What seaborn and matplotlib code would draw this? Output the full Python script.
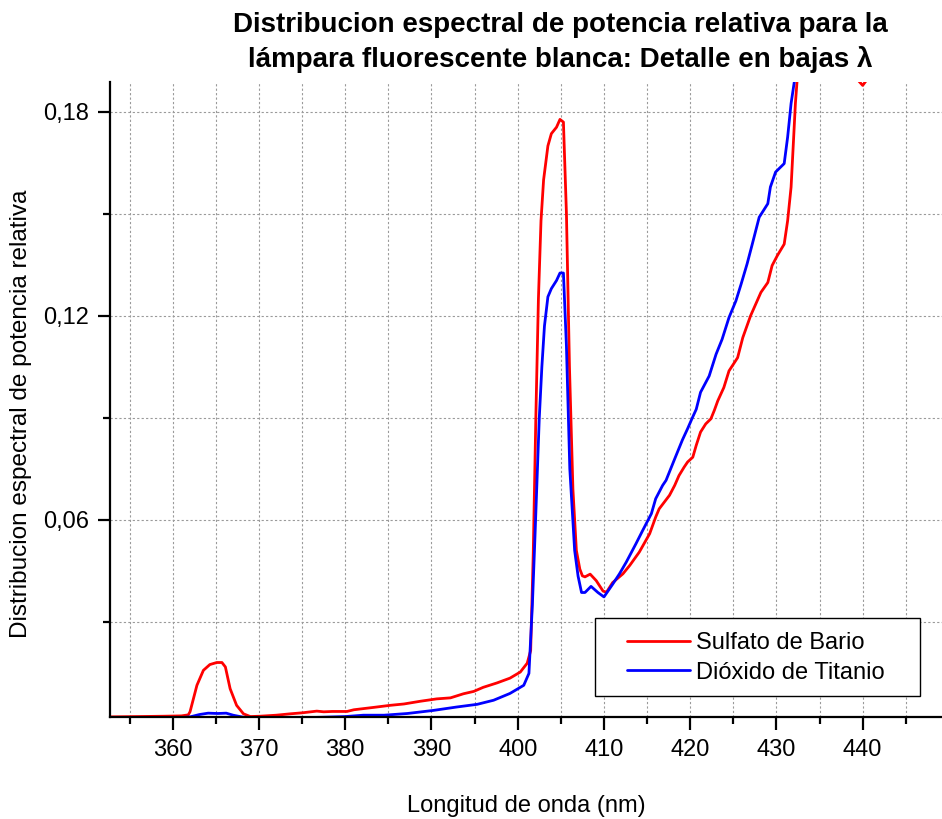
import numpy as np
import pandas as pd
import matplotlib
matplotlib.use("Agg")
import matplotlib.pyplot as plt
from matplotlib.ticker import MultipleLocator, FuncFormatter
from matplotlib.patches import Rectangle
import seaborn as sns

# Relative spectral power, white fluorescent lamp, low-wavelength detail
bario_nm = [352.5, 356.0, 359.0, 361.0, 361.8, 362.0, 362.8, 363.55, 364.3, 365.1,
            365.7, 366.1, 366.65, 367.4, 368.2, 369.0, 370.1, 372.0, 373.6, 375.0,
            376.7, 377.5, 378.5, 380.2, 381.0, 383.3, 385.2, 386.8, 388.7, 390.6,
            392.2, 393.7, 394.9, 396.0, 397.6, 399.1, 400.3, 401.1, 401.5, 401.8,
            402.1, 402.4, 402.7, 403.0, 403.5, 403.9, 404.5, 404.9, 405.3, 405.65,
            406.0, 406.4, 406.8, 407.2, 407.5, 407.8, 408.4, 409.1, 409.9, 410.3,
            411.0, 412.2, 413.0, 414.1, 415.3, 416.0, 416.4, 417.6, 418.2, 418.7,
            419.3, 419.7, 420.3, 420.7, 421.2, 421.8, 422.4, 422.8, 423.2, 423.9,
            424.5, 425.5, 426.1, 427.0, 428.2, 429.0, 429.5, 430.1, 430.9, 431.3,
            431.7, 432.0, 432.2, 432.4, 433.0, 435.0, 437.0, 439.0, 439.4, 440.0,
            440.5, 441.0, 444.0, 449.5]
bario_val = [0.0020, 0.0021, 0.0022, 0.0023, 0.0026, 0.0035, 0.0113, 0.0157, 0.0174, 0.0180,
             0.0180, 0.0167, 0.0103, 0.0054, 0.0029, 0.0021, 0.0022, 0.0025, 0.0029, 0.0032,
             0.0037, 0.0035, 0.0036, 0.0036, 0.0041, 0.0048, 0.0054, 0.0058, 0.0066, 0.0073,
             0.0076, 0.0088, 0.0095, 0.0107, 0.0120, 0.0134, 0.0152, 0.0178, 0.0215, 0.0500,
             0.0900, 0.1250, 0.1480, 0.1600, 0.1700, 0.1736, 0.1755, 0.1778, 0.1770, 0.1500,
             0.1050, 0.0690, 0.0510, 0.0455, 0.0435, 0.0432, 0.0440, 0.0421, 0.0390, 0.0387,
             0.0415, 0.0441, 0.0466, 0.0505, 0.0559, 0.0608, 0.0632, 0.0672, 0.0701, 0.0730,
             0.0755, 0.0770, 0.0784, 0.0819, 0.0858, 0.0882, 0.0897, 0.0922, 0.0950, 0.0989,
             0.1038, 0.1077, 0.1136, 0.1200, 0.1269, 0.1298, 0.1348, 0.1377, 0.1411, 0.1480,
             0.1579, 0.1726, 0.1825, 0.1893, 0.2150, 0.2500, 0.2350, 0.2050, 0.1895, 0.1878,
             0.1895, 0.2000, 0.2600, 0.3000]

titanio_nm = [352.5, 356.0, 359.0, 361.0, 362.0, 363.1, 364.1, 365.2, 366.2, 367.0,
              368.2, 370.0, 373.0, 375.5, 377.4, 380.0, 382.1, 384.5, 387.2, 390.2,
              392.9, 395.3, 397.2, 399.1, 400.7, 401.3, 401.7, 402.0, 402.2, 402.5,
              402.8, 403.1, 403.5, 403.9, 404.5, 404.9, 405.3, 405.65, 406.04, 406.6,
              407.0, 407.4, 407.8, 408.5, 409.3, 410.0, 411.0, 411.8, 412.6, 413.7,
              414.5, 415.5, 416.0, 416.8, 417.2, 418.2, 419.1, 419.7, 420.25, 420.7,
              421.2, 422.2, 423.0, 423.7, 424.5, 425.3, 425.9, 426.6, 427.2, 428.0,
              429.0, 429.3, 429.9, 430.9, 431.3, 431.7, 432.1, 433.0, 436.0, 440.0,
              445.0, 449.5]
titanio_val = [0.0017, 0.0017, 0.0017, 0.0018, 0.0020, 0.0027, 0.0031, 0.0030, 0.0031, 0.0025,
               0.0019, 0.0017, 0.0017, 0.0018, 0.0019, 0.0021, 0.0025, 0.0025, 0.0030, 0.0039,
               0.0049, 0.0057, 0.0069, 0.0089, 0.0113, 0.0148, 0.0350, 0.0550, 0.0690, 0.0900,
               0.1050, 0.1170, 0.1256, 0.1280, 0.1304, 0.1326, 0.1326, 0.1110, 0.0750, 0.0510,
               0.0434, 0.0386, 0.0386, 0.0404, 0.0386, 0.0373, 0.0410, 0.0441, 0.0476, 0.0529,
               0.0569, 0.0618, 0.0662, 0.0701, 0.0716, 0.0779, 0.0835, 0.0868, 0.0900, 0.0925,
               0.0975, 0.1023, 0.1087, 0.1131, 0.1195, 0.1244, 0.1293, 0.1353, 0.1411, 0.1490,
               0.1530, 0.1579, 0.1623, 0.1648, 0.1726, 0.1825, 0.1893, 0.2150, 0.2600, 0.2900,
               0.3200, 0.3400]

series_names = ["Sulfato de Bario", "Dióxido de Titanio"]
series_colors = ["#ff0000", "#0000ff"]

title_lines = ["Distribucion espectral de potencia relativa para la",
               "lámpara fluorescente blanca: Detalle en bajas λ"]
x_label = "Longitud de onda (nm)"
y_label = "Distribucion espectral de potencia relativa"

df = pd.concat([
    pd.DataFrame({"nm": bario_nm, "pot": bario_val, "muestra": series_names[0]}),
    pd.DataFrame({"nm": titanio_nm, "pot": titanio_val, "muestra": series_names[1]}),
], ignore_index=True)

sns.set_style("ticks")
plt.rcParams["font.family"] = ["Liberation Sans", "DejaVu Sans"]
plt.rcParams.update({
    "text.color": "black",
    "axes.labelcolor": "black",
    "xtick.color": "black",
    "ytick.color": "black",
})

fig = plt.figure(figsize=(9.42, 8.19), dpi=100)
ax = fig.add_axes([110 / 942, 1 - 717 / 819, (942 - 110) / 942, (717 - 82) / 819])

sns.lineplot(data=df, x="nm", y="pot", hue="muestra", estimator=None, sort=False,
             palette=dict(zip(series_names, series_colors)), linewidth=2.0,
             ax=ax, legend=True)

ax.set_xlim(352.72, 449.2)
ax.set_ylim(0.00197, 0.1888)

ax.xaxis.set_major_locator(MultipleLocator(10))
ax.xaxis.set_minor_locator(MultipleLocator(5))
ax.yaxis.set_major_locator(MultipleLocator(0.06))
ax.yaxis.set_minor_locator(MultipleLocator(0.03))
ax.yaxis.set_major_formatter(FuncFormatter(lambda v, p: f"{v:.2f}".replace(".", ",")))
ax.xaxis.set_major_formatter(FuncFormatter(lambda v, p: f"{v:.0f}"))

ax.set_axisbelow(True)
ax.grid(which="both", color="#9a9a9a", linestyle=(0, (2, 2)), linewidth=0.8)

for side in ("top", "right"):
    ax.spines[side].set_visible(False)
for side in ("left", "bottom"):
    ax.spines[side].set_linewidth(1.6)
    ax.spines[side].set_color("black")

ax.tick_params(axis="both", which="both", direction="out", width=1.6, color="black",
               labelsize=17, labelcolor="black")
ax.tick_params(axis="both", which="major", length=9)
ax.tick_params(axis="both", which="minor", length=5)
ax.tick_params(axis="x", which="major", pad=7)
ax.tick_params(axis="y", which="major", pad=6)

ax.set_xlabel(x_label, fontsize=17, labelpad=24, color="black")
ax.set_ylabel(y_label, fontsize=17.5, color="black")
ax.yaxis.set_label_coords(-0.094, 0.478)

# Title, one line at a time
fig.text(560 / 942, 1 - 32 / 819, title_lines[0], ha="center", va="baseline",
         fontsize=20, fontweight="bold", color="black")
fig.text(560 / 942, 1 - 67 / 819, title_lines[1], ha="center", va="baseline",
         fontsize=20, fontweight="bold", color="black")

# Legend with a plain rectangular frame
handles, labels = ax.get_legend_handles_labels()
ax.legend(handles, labels, loc="center left",
          bbox_to_anchor=(627 / 942, 1 - 658 / 819), bbox_transform=fig.transFigure,
          frameon=False, fontsize=17, borderpad=0, borderaxespad=0,
          handlelength=2.67, handletextpad=0.25, labelspacing=0.3)
for h in ax.get_legend().get_lines():
    h.set_linewidth(2.0)
for t in ax.get_legend().get_texts():
    t.set_color("black")
frame = Rectangle((595 / 942, 1 - 696 / 819), 325 / 942, 78 / 819,
                  transform=fig.transFigure, facecolor="white", edgecolor="black",
                  linewidth=1.0, zorder=4, clip_on=False)
ax.add_patch(frame)

fig.savefig("out.png", dpi=100)
